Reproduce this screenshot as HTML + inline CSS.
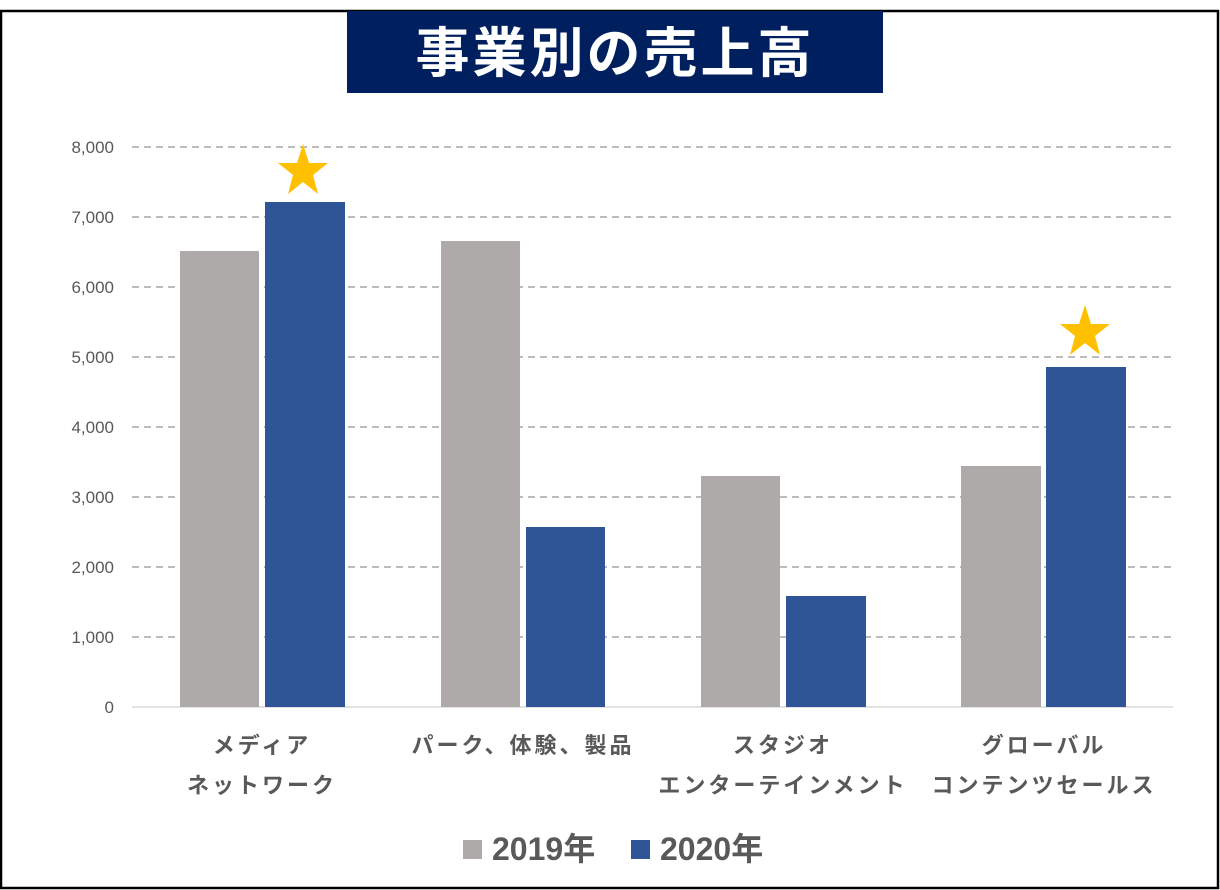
<!DOCTYPE html>
<html><head><meta charset="utf-8"><style>
html,body{margin:0;padding:0;background:#fff;}
svg{display:block;}
text{font-family:"Liberation Sans","Noto Sans CJK JP",sans-serif;}
</style></head><body>
<svg width="1220" height="890" viewBox="0 0 1220 890" xmlns="http://www.w3.org/2000/svg">
<rect x="0" y="0" width="1220" height="890" fill="#fff"/>
<rect x="1" y="11" width="1217" height="877" fill="none" stroke="#000" stroke-width="2.5"/>
<rect x="347" y="11" width="536" height="82" fill="#001f5f"/>
<text x="615" y="72" text-anchor="middle" font-size="54" font-weight="bold" fill="#fff" letter-spacing="3">事業別の売上高</text>
<g stroke="#a6a6a6" stroke-width="1.5" stroke-dasharray="7,5">
<line x1="132" y1="147" x2="1173" y2="147"/>
<line x1="132" y1="217" x2="1173" y2="217"/>
<line x1="132" y1="287" x2="1173" y2="287"/>
<line x1="132" y1="357" x2="1173" y2="357"/>
<line x1="132" y1="427" x2="1173" y2="427"/>
<line x1="132" y1="497" x2="1173" y2="497"/>
<line x1="132" y1="567" x2="1173" y2="567"/>
<line x1="132" y1="637" x2="1173" y2="637"/>
</g>
<line x1="132" y1="707" x2="1173" y2="707" stroke="#d9d9d9" stroke-width="1.5"/>
<g font-size="17" fill="#595959" text-anchor="end">
<text x="114" y="153">8,000</text>
<text x="114" y="223">7,000</text>
<text x="114" y="293">6,000</text>
<text x="114" y="363">5,000</text>
<text x="114" y="433">4,000</text>
<text x="114" y="503">3,000</text>
<text x="114" y="573">2,000</text>
<text x="114" y="643">1,000</text>
<text x="114" y="713">0</text>
</g>
<g fill="#aeaaaa">
<rect x="180" y="251" width="79" height="456"/>
<rect x="441" y="241" width="79" height="466"/>
<rect x="701" y="476" width="79" height="231"/>
<rect x="961" y="466" width="80" height="241"/>
</g>
<g fill="#2f5597">
<rect x="265" y="202" width="80" height="505"/>
<rect x="526" y="527" width="79" height="180"/>
<rect x="786" y="596" width="80" height="111"/>
<rect x="1046" y="367" width="80" height="340"/>
</g>
<g fill="#ffc000">
<polygon points="303,144 309,163 328,163 313,175 318,194 303,182 288,194 293,175 278,163 297,163"/>
<polygon points="1085,305 1091,324 1110,324 1095,336 1100,355 1085,343 1070,355 1075,336 1060,324 1079,324"/>
</g>
<g font-size="22" font-weight="bold" fill="#595959" text-anchor="middle" letter-spacing="3">
<text x="262" y="753">メディア</text>
<text x="262" y="793">ネットワーク</text>
<text x="523" y="753">パーク、体験、製品</text>
<text x="783" y="753">スタジオ</text>
<text x="783" y="793">エンターテインメント</text>
<text x="1044" y="753">グローバル</text>
<text x="1044" y="793">コンテンツセールス</text>
</g>
<rect x="463" y="840" width="19" height="19" fill="#aeaaaa"/>
<text x="492" y="860" font-size="32" font-weight="bold" fill="#595959">2019年</text>
<rect x="631" y="840" width="19" height="19" fill="#2f5597"/>
<text x="660" y="860" font-size="32" font-weight="bold" fill="#595959">2020年</text>
</svg>
</body></html>
